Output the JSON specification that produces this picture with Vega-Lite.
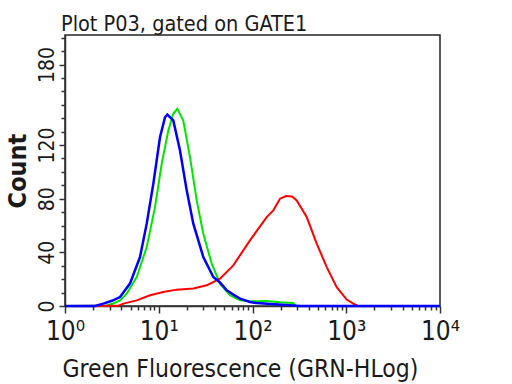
{
  "$schema": "https://vega.github.io/schema/vega-lite/v6.json",
  "width": 375,
  "height": 271,
  "autosize": {"type": "none"},
  "padding": {"left": 65, "top": 35, "right": 72, "bottom": 78},
  "background": "white",
  "title": {
    "text": "Plot P03, gated on GATE1",
    "anchor": "start",
    "frame": "group",
    "dx": -4,
    "dy": 23,
    "offset": 6,
    "baseline": "alphabetic",
    "font": "DejaVu Sans Condensed, DejaVu Sans",
    "fontSize": 21.5,
    "fontWeight": "normal",
    "color": "#1a1a1a"
  },
  "config": {
    "view": {"stroke": "#222", "strokeWidth": 1.5},
    "axis": {"grid": false}
  },
  "data": {
    "values": [
      {"s": "blue", "x": 1, "c": 0},
      {"s": "blue", "x": 2.09, "c": 0},
      {"s": "blue", "x": 2.56, "c": 1.8},
      {"s": "blue", "x": 3.17, "c": 3.9},
      {"s": "blue", "x": 3.86, "c": 6.7},
      {"s": "blue", "x": 4.93, "c": 16.7},
      {"s": "blue", "x": 6.31, "c": 36.5},
      {"s": "blue", "x": 7.44, "c": 61.4},
      {"s": "blue", "x": 8.75, "c": 91.1},
      {"s": "blue", "x": 10.31, "c": 125.8},
      {"s": "blue", "x": 11.66, "c": 140.7},
      {"s": "blue", "x": 12.34, "c": 142.7},
      {"s": "blue", "x": 14.29, "c": 138.3},
      {"s": "blue", "x": 16.85, "c": 115.9},
      {"s": "blue", "x": 19.87, "c": 86.2},
      {"s": "blue", "x": 23.36, "c": 61.4},
      {"s": "blue", "x": 29.87, "c": 36.5},
      {"s": "blue", "x": 38.19, "c": 21.6},
      {"s": "blue", "x": 45.0, "c": 17.5},
      {"s": "blue", "x": 53.06, "c": 11.7},
      {"s": "blue", "x": 62.4, "c": 8.5},
      {"s": "blue", "x": 73.55, "c": 5.5},
      {"s": "blue", "x": 94.0, "c": 3.0},
      {"s": "blue", "x": 110.9, "c": 2.2},
      {"s": "blue", "x": 173.8, "c": 1.3},
      {"s": "blue", "x": 251, "c": 0.5},
      {"s": "blue", "x": 321, "c": 0},
      {"s": "blue", "x": 10000, "c": 0},
      {"s": "green", "x": 1, "c": 0},
      {"s": "green", "x": 2.67, "c": 0.1},
      {"s": "green", "x": 3.27, "c": 1.8},
      {"s": "green", "x": 3.86, "c": 4.2},
      {"s": "green", "x": 4.55, "c": 9.2},
      {"s": "green", "x": 5.82, "c": 21.6},
      {"s": "green", "x": 7.44, "c": 43.9},
      {"s": "green", "x": 9.12, "c": 73.7},
      {"s": "green", "x": 10.75, "c": 106.0},
      {"s": "green", "x": 12.65, "c": 130.8},
      {"s": "green", "x": 14.29, "c": 143.3},
      {"s": "green", "x": 15.77, "c": 147.0},
      {"s": "green", "x": 18.27, "c": 138.3},
      {"s": "green", "x": 21.54, "c": 110.9},
      {"s": "green", "x": 25.4, "c": 78.7},
      {"s": "green", "x": 29.87, "c": 53.9},
      {"s": "green", "x": 36.72, "c": 31.6},
      {"s": "green", "x": 45.01, "c": 16.7},
      {"s": "green", "x": 57.54, "c": 8.0},
      {"s": "green", "x": 73.55, "c": 4.2},
      {"s": "green", "x": 94.0, "c": 3.5},
      {"s": "green", "x": 141.8, "c": 3.7},
      {"s": "green", "x": 196.6, "c": 2.8},
      {"s": "green", "x": 270, "c": 2.2},
      {"s": "green", "x": 291, "c": 0},
      {"s": "green", "x": 10000, "c": 0},
      {"s": "red", "x": 1, "c": 0},
      {"s": "red", "x": 3.67, "c": 0.1},
      {"s": "red", "x": 4.19, "c": 1.8},
      {"s": "red", "x": 5.82, "c": 4.2},
      {"s": "red", "x": 8.07, "c": 8.0},
      {"s": "red", "x": 11.18, "c": 10.4},
      {"s": "red", "x": 15.54, "c": 12.2},
      {"s": "red", "x": 23.36, "c": 13.0},
      {"s": "red", "x": 32.47, "c": 15.4},
      {"s": "red", "x": 45.01, "c": 20.4},
      {"s": "red", "x": 62.39, "c": 30.3},
      {"s": "red", "x": 94.0, "c": 48.9},
      {"s": "red", "x": 141.8, "c": 66.3},
      {"s": "red", "x": 166.7, "c": 71.3},
      {"s": "red", "x": 196.6, "c": 80.0},
      {"s": "red", "x": 227.7, "c": 81.9},
      {"s": "red", "x": 263.8, "c": 81.7},
      {"s": "red", "x": 296.1, "c": 78.7},
      {"s": "red", "x": 378.6, "c": 66.3},
      {"s": "red", "x": 484.0, "c": 46.5},
      {"s": "red", "x": 618.8, "c": 29.0},
      {"s": "red", "x": 791.0, "c": 14.1},
      {"s": "red", "x": 1011, "c": 4.8},
      {"s": "red", "x": 1189, "c": 1.8},
      {"s": "red", "x": 1334, "c": 0},
      {"s": "red", "x": 10000, "c": 0}
    ]
  },
  "encoding": {
    "x": {
      "field": "x",
      "type": "quantitative",
      "scale": {"type": "log", "domain": [1, 10000], "nice": false},
      "axis": {
        "title": "Green Fluorescence (GRN-HLog)",
        "titleFont": "DejaVu Sans Condensed, DejaVu Sans",
        "titleFontSize": 24.5,
        "titleFontWeight": "normal",
        "titleColor": "#1a1a1a",
        "titleAnchor": "start",
        "titleAlign": "left",
        "titleBaseline": "alphabetic",
        "titleX": -3,
        "titleY": 70,
        "values": [1, 2, 3, 4, 5, 6, 7, 8, 9, 10, 20, 30, 40, 50, 60, 70, 80, 90, 100, 200, 300, 400, 500, 600, 700, 800, 900, 1000, 2000, 3000, 4000, 5000, 6000, 7000, 8000, 9000, 10000],
        "labelExpr": "datum.value == 1 ? '10⁰' : datum.value == 10 ? '10¹' : datum.value == 100 ? '10²' : datum.value == 1000 ? '10³' : datum.value == 10000 ? '10⁴' : ''",
        "labelOverlap": false,
        "labelFlush": false,
        "labelFont": "DejaVu Sans Condensed, DejaVu Sans",
        "labelFontSize": 26,
        "labelColor": "#1a1a1a",
        "labelPadding": 5,
        "tickSize": {"condition": {"test": "datum.value == 1 || datum.value == 10 || datum.value == 100 || datum.value == 1000 || datum.value == 10000", "value": 7}, "value": 4},
        "tickColor": "#333",
        "tickWidth": 1.5,
        "domainColor": "#333",
        "domainWidth": 1.5
      }
    },
    "y": {
      "field": "c",
      "type": "quantitative",
      "scale": {"domain": [0, 202], "nice": false},
      "axis": {
        "title": "Count",
        "titleFont": "DejaVu Sans Condensed, DejaVu Sans",
        "titleFontSize": 25,
        "titleFontWeight": "bold",
        "titleColor": "#1a1a1a",
        "titleAngle": 270,
        "titleAlign": "center",
        "titleBaseline": "middle",
        "titleX": -48,
        "titleY": 135.5,
        "values": [0, 10, 20, 30, 40, 50, 60, 70, 80, 90, 100, 110, 120, 130, 140, 150, 160, 170, 180, 190, 200],
        "labelExpr": "(datum.value == 0 || datum.value == 40 || datum.value == 80 || datum.value == 120 || datum.value == 180) ? datum.label : ''",
        "labelOverlap": false,
        "labelFlush": false,
        "labelAngle": 270,
        "labelAlign": "center",
        "labelBaseline": "middle",
        "labelFont": "DejaVu Sans Condensed, DejaVu Sans",
        "labelFontSize": 21,
        "labelColor": "#1a1a1a",
        "labelPadding": 12,
        "tickSize": {"condition": {"test": "datum.value == 0 || datum.value == 40 || datum.value == 80 || datum.value == 120 || datum.value == 180", "value": 6}, "value": 4},
        "tickColor": "#333",
        "tickWidth": 1.5,
        "domainColor": "#333",
        "domainWidth": 1.5
      }
    }
  },
  "layer": [
    {"transform": [{"filter": "datum.s == 'green'"}], "mark": {"type": "line", "color": "#00e600", "strokeWidth": 2}},
    {"transform": [{"filter": "datum.s == 'red'"}], "mark": {"type": "line", "color": "#ff0000", "strokeWidth": 2}},
    {"transform": [{"filter": "datum.s == 'blue'"}], "mark": {"type": "line", "color": "#0000ff", "strokeWidth": 2.5}}
  ]
}
